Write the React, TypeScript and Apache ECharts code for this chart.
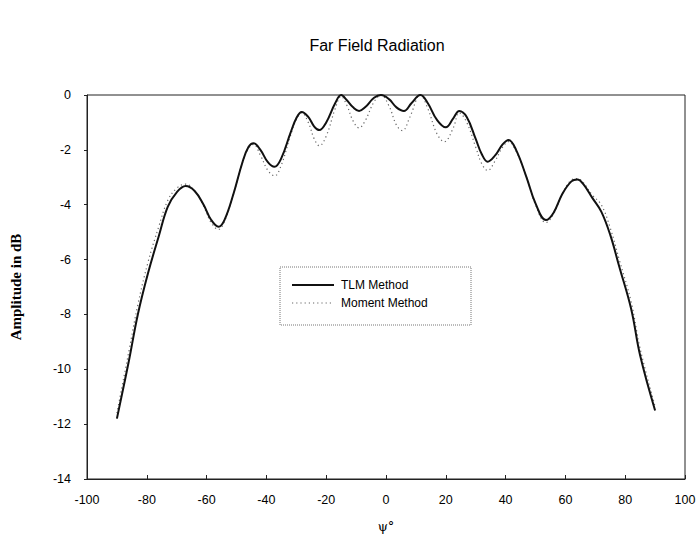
import React, { useEffect, useRef } from "react";
import * as echarts from "echarts";

const xTicks = [-100, -80, -60, -40, -20, 0, 20, 40, 60, 80, 100];
const yTicks = [-14, -12, -10, -8, -6, -4, -2, 0];

const tlmAngles = [
  -90, -86, -83, -79.6, -76, -73, -70, -67, -64, -61, -58.5, -56, -54, -51, -48, -46, -44.3, -42, -39.5,
  -37.3, -35, -32, -30, -28.2, -26, -24, -22.3, -20, -17, -15, -13, -11, -9, -7, -4, -1.7, 1, 3.5, 6, 8.5,
  11.5, 14, 17, 20, 22.5, 24.5, 27, 30, 32, 34, 36.5, 39, 41, 43.5, 47, 50, 53.5, 56, 59, 62, 64, 66, 69,
  72, 75, 78, 82, 85, 90,
];
const tlmValues = [
  -11.8, -9.7, -8.0, -6.5, -5.15, -4.08, -3.55, -3.32, -3.5, -4.0, -4.55, -4.8, -4.55, -3.6, -2.45, -1.9,
  -1.76, -2.0, -2.45, -2.62, -2.3, -1.4, -0.85, -0.62, -0.8, -1.15, -1.28, -1.0, -0.3, 0, -0.2, -0.45,
  -0.58, -0.45, -0.1, 0, -0.15, -0.45, -0.58, -0.3, 0, -0.3, -0.9, -1.18, -0.85, -0.58, -0.8, -1.6, -2.15,
  -2.43, -2.2, -1.8, -1.64, -2.0, -3.0, -3.95, -4.56, -4.3, -3.6, -3.15, -3.08, -3.25, -3.75, -4.25, -5.1,
  -6.25, -7.8, -9.5, -11.5,
];

const momentAngles = [
  -90, -86, -83, -79.6, -76, -73, -70, -67, -64, -61, -58.5, -56, -54, -51, -48, -46, -44.3, -42, -39.5,
  -37.3, -35, -32, -30, -28.2, -26, -24, -22.3, -20, -17, -15, -13, -11, -9, -7, -4, -1.7, 1, 3.5, 5.5, 8,
  11.5, 14, 17, 19.5, 22.5, 24.5, 27, 30, 32, 34, 36.5, 39, 41, 43.5, 47, 50, 53.5, 56, 59, 62, 64, 66, 69,
  72, 75, 78, 82, 85, 90,
];
const momentValues = [
  -11.6, -9.35, -7.65, -6.1, -4.8, -3.85, -3.4, -3.25, -3.5, -4.05, -4.65, -4.9, -4.6, -3.6, -2.45, -1.95,
  -1.8, -2.2, -2.75, -2.95, -2.55, -1.5, -0.9, -0.65, -1.0, -1.6, -1.85, -1.5, -0.5, -0.05, -0.4, -0.95,
  -1.2, -0.95, -0.25, 0, -0.4, -1.1, -1.3, -0.8, 0, -0.5, -1.4, -1.7, -1.2, -0.65, -1.0, -1.9, -2.5, -2.75,
  -2.4, -1.9, -1.7, -2.05, -3.0, -4.0, -4.65, -4.35, -3.6, -3.1, -3.05, -3.2, -3.65, -4.0, -4.85, -6.0,
  -7.55, -9.25, -11.35,
];

const seriesNames = ["TLM Method", "Moment Method"];

export default function App() {
  const ref = useRef<HTMLDivElement>(null);
  useEffect(() => {
    if (!ref.current) return;
    const chart = echarts.init(ref.current, undefined, { renderer: "svg" });
    const tlm = tlmAngles.map((a, i) => [a, tlmValues[i]]);
    const mom = momentAngles.map((a, i) => [a, momentValues[i]]);
    const sans = "Liberation Sans, Arial, sans-serif";
    chart.setOption({
      animation: false,
      backgroundColor: "#ffffff",
      title: {
        text: "Far Field Radiation",
        left: 372,
        top: 32,
        textAlign: "center",
        textStyle: {
          fontFamily: sans,
          fontSize: 16,
          fontWeight: "normal",
          color: "#000",
        },
      },
      grid: {
        left: 86,
        right: 14,
        top: 95,
        bottom: 61,
        show: true,
        borderColor: "#222",
        borderWidth: 1,
        backgroundColor: "transparent",
      },
      graphic: [
        {
          type: "rect",
          shape: { x: 280, y: 267, width: 191, height: 58 },
          style: { fill: "#fff", stroke: "#777", lineWidth: 1, lineDash: [1, 1] },
          z: 10,
        },
        {
          type: "line",
          shape: { x1: 292, y1: 285, x2: 334, y2: 285 },
          style: { stroke: "#111", lineWidth: 2 },
          z: 11,
        },
        {
          type: "line",
          shape: { x1: 292, y1: 303, x2: 334, y2: 303 },
          style: { stroke: "#666", lineWidth: 1.2, lineDash: [1.2, 3] },
          z: 11,
        },
        {
          type: "text",
          x: 341,
          y: 285,
          style: {
            text: seriesNames[0],
            fontFamily: sans,
            fontSize: 12,
            fill: "#000",
            verticalAlign: "middle",
          },
          z: 11,
        },
        {
          type: "text",
          x: 341,
          y: 303,
          style: {
            text: seriesNames[1],
            fontFamily: sans,
            fontSize: 12,
            fill: "#000",
            verticalAlign: "middle",
          },
          z: 11,
        },
      ],
      xAxis: {
        type: "value",
        min: xTicks[0],
        max: xTicks[xTicks.length - 1],
        interval: 20,
        name: "\u03c8\u00b0",
        nameLocation: "middle",
        nameGap: 41,
        nameTextStyle: {
          fontFamily: "DejaVu Serif, Liberation Serif, serif",
          fontSize: 13,
          color: "#000",
        },
        axisLine: { show: true, onZero: false, lineStyle: { color: "#222", width: 1 } },
        axisTick: { show: true, inside: true, length: 4, lineStyle: { color: "#222" } },
        axisLabel: {
          fontFamily: sans,
          fontSize: 12.5,
          color: "#000",
          margin: 14,
        },
        splitLine: { show: false },
      },
      yAxis: {
        type: "value",
        min: yTicks[0],
        max: yTicks[yTicks.length - 1],
        interval: 2,
        name: "Amplitude in dB",
        nameLocation: "middle",
        nameGap: 64,
        nameTextStyle: {
          fontFamily: "Liberation Serif, Times New Roman, serif",
          fontSize: 15,
          fontWeight: "bold",
          color: "#000",
        },
        axisLine: { show: true, onZero: false, lineStyle: { color: "#222", width: 1 } },
        axisTick: { show: true, inside: false, length: 3, lineStyle: { color: "#222" } },
        axisLabel: {
          fontFamily: sans,
          fontSize: 12.5,
          color: "#000",
          margin: 16,
        },
        splitLine: { show: false },
      },
      series: [
        {
          name: seriesNames[0],
          type: "line",
          data: tlm,
          smooth: 0.4,
          symbol: "none",
          clip: false,
          lineStyle: { color: "#111", width: 2, type: "solid" },
          itemStyle: { color: "#111" },
          z: 3,
        },
        {
          name: seriesNames[1],
          type: "line",
          data: mom,
          smooth: 0.4,
          symbol: "none",
          clip: false,
          lineStyle: { color: "#666", width: 1.2, type: [1.2, 3] },
          itemStyle: { color: "#666" },
          z: 2,
        },
      ],
    });
    return () => chart.dispose();
  }, []);
  return (
    <div
      ref={ref}
      style={{ position: "fixed", left: 0, top: 0, width: 699, height: 540, background: "#fff" }}
    />
  );
}
